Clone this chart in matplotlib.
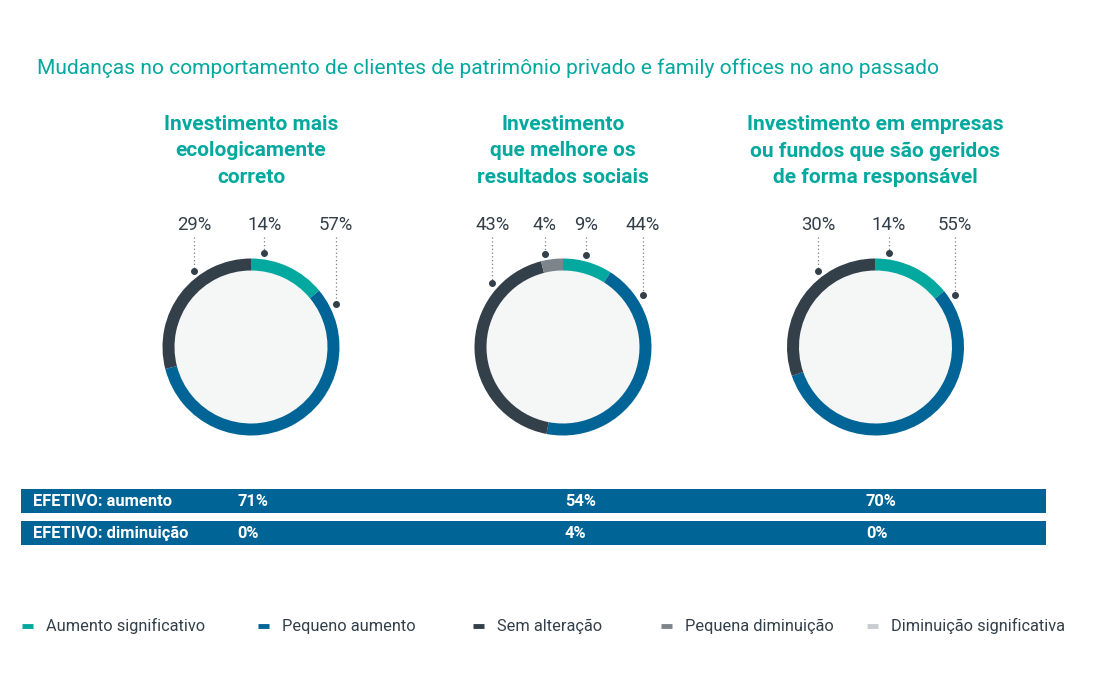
import numpy as np
import matplotlib.pyplot as plt
from matplotlib.patches import Circle

plt.rcParams['font.family'] = ['Roboto', 'DejaVu Sans']

# Data
TITLE = 'Mudanças no comportamento de clientes de patrimônio privado e family offices no ano passado'
CATEGORIES = ['Aumento significativo', 'Pequeno aumento', 'Sem alteração',
              'Pequena diminuição', 'Diminuição significativa']
CHART_TITLES = ['Investimento mais\necologicamente\ncorreto',
                'Investimento\nque melhore os\nresultados sociais',
                'Investimento em empresas\nou fundos que são geridos\nde forma responsável']
SHARES = [
    [14, 57, 29, 0, 0],
    [9, 44, 43, 4, 0],
    [14, 55, 30, 0, 0],
]
EFFECTIVE_LABELS = ['EFETIVO: aumento', 'EFETIVO: diminuição']
EFFECTIVE_UP = [71, 54, 70]
EFFECTIVE_DOWN = [0, 4, 0]

# Layout / style
COLORS = ['#03a99e', '#006496', '#333f49', '#7d858c', '#c9cdd1']
TEAL = '#03a99e'
TEXT = '#333f49'
CENTERS_X = [251, 563, 875.5]
CENTER_Y = 347
RADIUS = 88.5
RING = 12
DOT_R = 95
LABEL_ANGLES = [  # degrees clockwise from top, one per segment (None = no label)
    [8, 63, 323, None, None],
    [14, 57, 312, 349, None],
    [8, 57, 323, None, None],
]
W, H = 1096, 695


def main():
    fig = plt.figure(figsize=(W / 100, H / 100), dpi=100)
    ax = fig.add_axes([0, 0, 1, 1])

    # Title
    ax.text(37, 68, TITLE, color=TEAL, fontsize=15.1, va='center', ha='left')

    for i, cx in enumerate(CENTERS_X):
        vals = SHARES[i]
        ax.text(cx, 151, CHART_TITLES[i], color=TEAL, fontsize=15, fontweight='bold',
                ha='center', va='center', linespacing=1.47)

        ax.add_patch(Circle((cx, CENTER_Y), RADIUS - RING, color='#f5f7f7', zorder=1))
        ax.pie(vals, colors=COLORS, center=(cx, CENTER_Y), radius=RADIUS,
               startangle=-90, counterclock=True,
               wedgeprops=dict(width=RING, linewidth=0))

        for v, a in zip(vals, LABEL_ANGLES[i]):
            if a is None or v == 0:
                continue
            t = np.radians(a)
            dx = cx + DOT_R * np.sin(t)
            dy = CENTER_Y - DOT_R * np.cos(t)
            ax.plot([dx, dx], [237, dy], color='#7a8187', lw=0.9, ls=(0, (1, 2)), zorder=3)
            ax.plot(dx, dy, 'o', color=TEXT, ms=4, zorder=4)
            ax.text(dx, 225, f'{v}%', color=TEXT, fontsize=13.3, ha='center', va='center')

    # Effective bars
    rows = [EFFECTIVE_UP, EFFECTIVE_DOWN]
    bar_y = [501, 533]
    ax.barh(bar_y, [1025, 1025], left=21, height=24, color='#006496', zorder=2)
    val_x = [237, 565, 866]
    for y, lab, row in zip(bar_y, EFFECTIVE_LABELS, rows):
        ax.text(33, y, lab, color='white', fontsize=11.9, fontweight='bold', va='center', zorder=3)
        for x, v in zip(val_x, row):
            ax.text(x, y, f'{v}%', color='white', fontsize=11.9, fontweight='bold',
                    va='center', zorder=3)

    # Legend
    leg_x = [22, 258, 473, 661, 867]
    for x, cat, c in zip(leg_x, CATEGORIES, COLORS):
        ax.plot([x, x + 11], [626, 626], color=c, lw=3.5, solid_capstyle='butt')
        ax.text(x + 24, 626, cat, color=TEXT, fontsize=11.8, va='center')

    ax.set_xlim(0, W)
    ax.set_ylim(H, 0)
    ax.set_aspect('equal')
    ax.axis('off')
    fig.savefig('out.png', dpi=100, facecolor='white')
    plt.close(fig)


if __name__ == '__main__':
    main()
